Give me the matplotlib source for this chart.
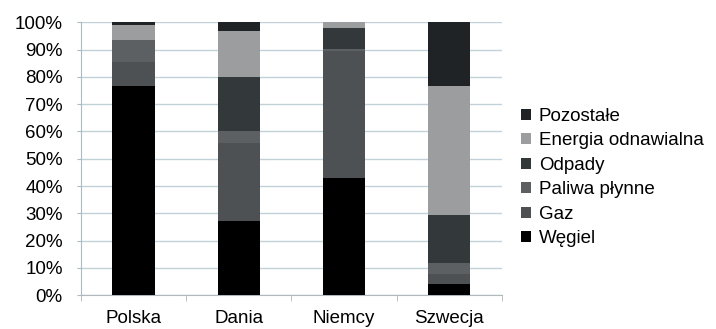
import matplotlib
matplotlib.use("Agg")
import matplotlib.pyplot as plt
import numpy as np

plt.rcParams['font.family'] = ['Liberation Sans', 'DejaVu Sans']

countries = ["Polska", "Dania", "Niemcy", "Szwecja"]
series_names = ["Węgiel", "Gaz", "Paliwa płynne", "Odpady",
                "Energia odnawialna", "Pozostałe"]
wegiel = [76.7, 27.1, 43.0, 4.0]
gaz = [8.9, 28.8, 46.6, 3.9]
paliwa = [7.9, 4.2, 0.5, 4.0]
odpady = [0.0, 19.9, 7.7, 17.4]
energia = [5.5, 16.9, 2.2, 47.4]
pozostale = [1.0, 3.1, 0.0, 23.3]
yticks = [0, 10, 20, 30, 40, 50, 60, 70, 80, 90, 100]

series = [wegiel, gaz, paliwa, odpady, energia, pozostale]
colors = ["#000000", "#4e5153", "#5d6062", "#33383b", "#9b9d9e", "#1f2325"]

fig = plt.figure(figsize=(7.16, 3.29), dpi=100)
ax = fig.add_axes([0.113, 0.103, 0.588, 0.829])

x = np.arange(len(countries))
bottom = np.zeros(len(countries))
handles = []
for name, vals, col in zip(series_names, series, colors):
    h = ax.bar(x, vals, width=0.4, bottom=bottom, color=col, label=name,
               zorder=3, linewidth=0)
    handles.append(h)
    bottom += np.array(vals)

ax.set_xlim(-0.5, len(countries) - 0.5)
ax.set_ylim(0, 100)
ax.set_yticks(yticks)
ax.set_yticklabels([f"{t}%" for t in yticks], fontsize=13.5)
ax.set_xticks(x)
ax.set_xticklabels(countries, fontsize=13.5)
ax.tick_params(axis='x', length=0, pad=11)
ax.tick_params(axis='y', length=3, color="#a9bcc6", pad=10)
ax.set_xticks(np.arange(-0.5, len(countries)), minor=True)
ax.tick_params(axis='x', which='minor', length=4, color="#b0b8bc")

ax.grid(axis='y', color="#c3d2d9", linewidth=1.0, zorder=0)
for s in ["top", "right"]:
    ax.spines[s].set_visible(False)
ax.spines["left"].set_color("#a9bcc6")
ax.spines["bottom"].set_color("#b0b8bc")

leg = fig.legend(handles[::-1], series_names[::-1], loc="upper left",
                 bbox_to_anchor=(0.717, 0.695), frameon=False, fontsize=13.5,
                 handlelength=0.55, handleheight=0.55, handletextpad=0.4,
                 labelspacing=0.4, borderaxespad=0)

fig.savefig("out.png", dpi=100)
